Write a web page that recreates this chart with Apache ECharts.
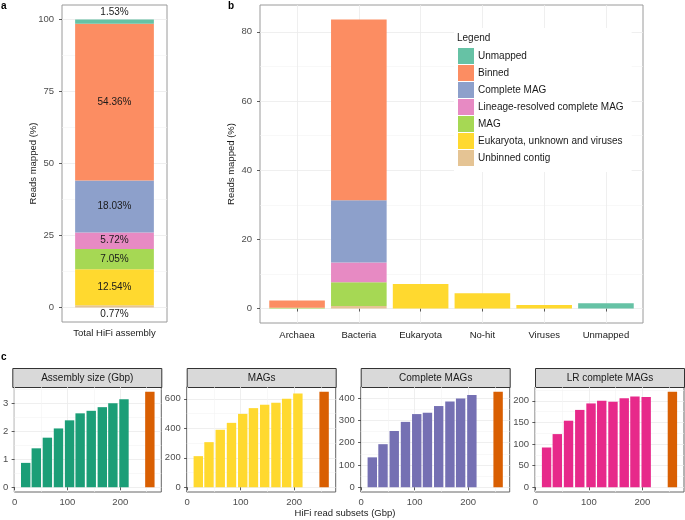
<!DOCTYPE html>
<html>
  <head>
    <meta charset="utf-8" />
    <title>Reads mapped and HiFi read subsets</title>
    <script src="https://cdn.jsdelivr.net/npm/echarts/dist/echarts.min.js"></script>
    <style>body { margin: 0; }</style>
  </head>
  <body>
    <div id="main" style="width: 685px; height: 520px;"></div>
    <script type="text/javascript">
      var myChart = echarts.init(document.getElementById('main'));
      var font = 'Liberation Sans';

      // legend groups, top of the stack first
      var groups = ['Unmapped', 'Binned', 'Complete MAG', 'Lineage-resolved complete MAG', 'MAG', 'Eukaryota, unknown and viruses', 'Unbinned contig'];
      var groupColors = ['#66c2a5', '#fc8d62', '#8da0cb', '#e78ac3', '#a6d854', '#ffd92f', '#e5c494'];

      // panel a: total HiFi assembly, same order as groups
      var totalPct = [1.53, 54.36, 18.03, 5.72, 7.05, 12.54, 0.77];

      // panel b: per taxon
      var taxa = ['Archaea', 'Bacteria', 'Eukaryota', 'No-hit', 'Viruses', 'Unmapped'];
      var taxaPos = [1, 2, 3, 4, 5, 6];
      var unmappedPct = [0, 0, 0, 0, 0, 1.53];
      var binnedPct = [2.1, 52.26, 0, 0, 0, 0];
      var completePct = [0, 18.03, 0, 0, 0, 0];
      var lineagePct = [0, 5.72, 0, 0, 0, 0];
      var magPct = [0.25, 6.8, 0, 0, 0, 0];
      var eukPct = [0, 0, 7.1, 4.4, 1.04, 0];
      var unbinnedPct = [0, 0.77, 0, 0, 0, 0];
      var taxaSeries = [unmappedPct, binnedPct, completePct, lineagePct, magPct, eukPct, unbinnedPct];

      // panel c: HiFi read subsets
      var subsetGbp = [21, 41, 62, 83, 104, 124, 145, 166, 186, 207];
      var fullGbp = 256;
      var assemblySize = [0.87, 1.39, 1.77, 2.1, 2.39, 2.64, 2.73, 2.86, 3.0, 3.14];
      var fullAssemblySize = 3.41;
      var mags = [211, 306, 390, 437, 498, 537, 560, 573, 600, 636];
      var fullMags = 648;
      var completeMags = [134, 193, 252, 293, 328, 334, 364, 384, 398, 414];
      var fullCompleteMags = 428;
      var lrCompleteMags = [92, 123, 154, 179, 194, 200, 198, 206, 210, 209];
      var fullLrCompleteMags = 221;

      var facetTitles = ['Assembly size (Gbp)', 'MAGs', 'Complete MAGs', 'LR complete MAGs'];
      var facetColors = ['#1b9e77', '#ffd92f', '#7570b3', '#e7298a'];
      var fullColor = '#d95f02';
      var facetValues = [assemblySize, mags, completeMags, lrCompleteMags];
      var facetFull = [fullAssemblySize, fullMags, fullCompleteMags, fullLrCompleteMags];

      // tick labels
      var aTicks = [0, 25, 50, 75, 100];
      var bTicks = [0, 20, 40, 60, 80];
      var cTicksX = [0, 100, 200];
      var cTicksY = [[0, 1, 2, 3], [0, 200, 400, 600], [0, 100, 200, 300, 400], [0, 50, 100, 150, 200]];

      var facetLeft = [12.3, 186.7, 360.7, 535];
      var facetWidth = 149;

      var grids = [], xAxes = [], yAxes = [], series = [], graphics = [];

      function gridBox(l, t, w, h, border) {
        grids.push({ left: l, top: t, width: w, height: h, show: !!border, borderColor: border || 'transparent', borderWidth: 1, backgroundColor: border ? '#fff' : 'transparent' });
        return grids.length - 1;
      }

      function valueAxis(g, min, max, ticks, margin) {
        return {
          type: 'value', gridIndex: g, min: min, max: max,
          axisLine: { show: false },
          axisTick: { show: true, length: 3, customValues: ticks, lineStyle: { color: '#333', width: 0.8 } },
          axisLabel: { customValues: ticks, color: '#4d4d4d', fontSize: 9.5, fontFamily: font, margin: margin },
          splitLine: { show: true, lineStyle: { color: '#ebebeb', width: 0.8 } }
        };
      }

      // hidden axis that only draws the minor grid lines
      function minorAxis(g, min, max, ticks) {
        var step = ticks[1] - ticks[0], vals = [];
        ticks.forEach(function (t) { vals.push(t - step / 2); });
        vals.push(ticks[ticks.length - 1] + step / 2);
        vals = vals.filter(function (v) { return v > min && v < max; });
        return {
          type: 'value', gridIndex: g, min: min, max: max,
          axisLine: { show: false },
          axisTick: { show: false, customValues: vals },
          axisLabel: { show: false, customValues: vals },
          splitLine: { show: true, lineStyle: { color: '#f3f3f3', width: 0.6 } }
        };
      }

      function hiddenAxis(g, extra) {
        return Object.assign({
          gridIndex: g, show: false,
          axisLine: { show: false }, axisTick: { show: false }, axisLabel: { show: false }, splitLine: { show: false }
        }, extra);
      }

      function axisName(text, gap) {
        return {
          name: text, nameLocation: 'middle', nameGap: gap, nameMoveOverlap: false,
          nameTextStyle: { color: '#1a1a1a', fontSize: 9.5, fontFamily: font }
        };
      }

      // ---- panel a
      var ga = gridBox(62, 5, 105, 317, '#9a9a9a');
      xAxes.push({
        type: 'category', gridIndex: ga, data: ['Total HiFi assembly'],
        axisLine: { show: false },
        axisTick: { alignWithLabel: true, length: 3, lineStyle: { color: '#333', width: 0.8 } },
        axisLabel: { color: '#1a1a1a', fontSize: 9.5, fontFamily: font, margin: 6 },
        splitLine: { show: false }
      });
      var aX = xAxes.length - 1;
      yAxes.push(Object.assign(valueAxis(ga, -5, 105, aTicks, 8), axisName('Reads mapped (%)', 24)));
      var aY = yAxes.length - 1;
      yAxes.push(minorAxis(ga, -5, 105, aTicks));

      for (var i = groups.length - 1; i >= 0; i--) {
        var pos = 'inside';
        if (i === 0) pos = 'top';
        if (i === groups.length - 1) pos = 'bottom';
        series.push({
          name: groups[i], type: 'bar', stack: 'total', xAxisIndex: aX, yAxisIndex: aY,
          barWidth: '75%', data: [totalPct[i]],
          itemStyle: { color: groupColors[i] },
          label: { show: true, position: pos, distance: 2, formatter: '{c}%', color: '#1a1a1a', fontSize: 10, fontFamily: font }
        });
      }

      // ---- panel b: frame, ticks and grid lines on a value axis (0.4 .. 6.6),
      // bars on an inset category grid covering 0.5 .. 6.5
      var bMax = 83.58, bLo = -0.05 * bMax, bHi = 1.05 * bMax;
      var bLeft = 260, bWidth = 383;
      var gb = gridBox(bLeft, 5, bWidth, 318, '#9a9a9a');
      xAxes.push({
        type: 'value', gridIndex: gb, min: 0.4, max: 6.6,
        axisLine: { show: false },
        axisTick: { length: 3, customValues: taxaPos, lineStyle: { color: '#333', width: 0.8 } },
        axisLabel: {
          customValues: taxaPos, color: '#1a1a1a', fontSize: 9.5, fontFamily: font, margin: 7,
          formatter: function (v) { return taxa[Math.round(v) - 1]; }
        },
        splitLine: { show: true, lineStyle: { color: '#ebebeb', width: 0.8 } }
      });
      yAxes.push(Object.assign(valueAxis(gb, bLo, bHi, bTicks, 8), axisName('Reads mapped (%)', 24)));
      yAxes.push(minorAxis(gb, bLo, bHi, bTicks));

      var gbIn = gridBox(bLeft + bWidth * 0.1 / 6.2, 5, bWidth * 6 / 6.2, 318, null);
      xAxes.push(hiddenAxis(gbIn, { type: 'category', data: taxa }));
      var bX = xAxes.length - 1;
      yAxes.push(hiddenAxis(gbIn, { type: 'value', min: bLo, max: bHi }));
      var bY = yAxes.length - 1;

      for (var i = groups.length - 1; i >= 0; i--) {
        series.push({
          name: groups[i], type: 'bar', stack: 'taxa', xAxisIndex: bX, yAxisIndex: bY,
          barWidth: '90%', data: taxaSeries[i],
          itemStyle: { color: groupColors[i] }
        });
      }

      // ---- panel c facets
      var xLo = -0.65, xHi = 277.65;
      for (var f = 0; f < 4; f++) {
        var g = gridBox(facetLeft[f], 387, facetWidth, 105, '#666');
        var yMax = facetFull[f];
        xAxes.push(valueAxis(g, xLo, xHi, cTicksX, 5));
        var fx = xAxes.length - 1;
        xAxes.push(minorAxis(g, xLo, xHi, cTicksX));
        yAxes.push(valueAxis(g, -0.05 * yMax, 1.05 * yMax, cTicksY[f], 6));
        var fy = yAxes.length - 1;
        yAxes.push(minorAxis(g, -0.05 * yMax, 1.05 * yMax, cTicksY[f]));

        var pts = subsetGbp.map(function (x, j) {
          return { value: [x, facetValues[f][j]], itemStyle: { color: facetColors[f] } };
        });
        pts.push({ value: [fullGbp, facetFull[f]], itemStyle: { color: fullColor } });
        series.push({ type: 'bar', xAxisIndex: fx, yAxisIndex: fy, barWidth: 9.4, data: pts, silent: true });

        graphics.push({
          type: 'group', left: facetLeft[f], top: 368,
          children: [
            { type: 'rect', shape: { x: 0, y: 0, width: facetWidth, height: 19 }, style: { fill: '#d9d9d9', stroke: '#333', lineWidth: 1 } },
            { type: 'text', x: facetWidth / 2, y: 10, style: { text: facetTitles[f], fill: '#1a1a1a', font: '10px "' + font + '"', textAlign: 'center', textVerticalAlign: 'middle' } }
          ]
        });
      }

      graphics.push(
        { type: 'text', left: 1, top: 1, style: { text: 'a', fill: '#000', font: 'bold 10px "' + font + '"' } },
        { type: 'text', left: 228, top: 1, style: { text: 'b', fill: '#000', font: 'bold 10px "' + font + '"' } },
        { type: 'text', left: 1, top: 352, style: { text: 'c', fill: '#000', font: 'bold 10px "' + font + '"' } },
        { type: 'text', x: 345, y: 513, style: { text: 'HiFi read subsets (Gbp)', fill: '#1a1a1a', font: '9.5px "' + font + '"', textAlign: 'center', textVerticalAlign: 'middle' } }
      );

      var option = {
        animation: false,
        title: {
          text: 'Legend', left: 457, top: 33, padding: 0, z: 10,
          textStyle: { color: '#1a1a1a', fontSize: 10, fontWeight: 'normal', fontFamily: font }
        },
        legend: {
          data: groups, orient: 'vertical', left: 454, top: 28,
          padding: [20, 8, 6, 4], backgroundColor: '#fff',
          itemWidth: 16, itemHeight: 16, itemGap: 1, icon: 'rect', selectedMode: false,
          textStyle: { color: '#1a1a1a', fontSize: 10, fontFamily: font, padding: [0, 0, 0, -1] }
        },
        grid: grids,
        xAxis: xAxes,
        yAxis: yAxes,
        series: series,
        graphic: graphics
      };

      myChart.setOption(option);
    </script>
  </body>
</html>
